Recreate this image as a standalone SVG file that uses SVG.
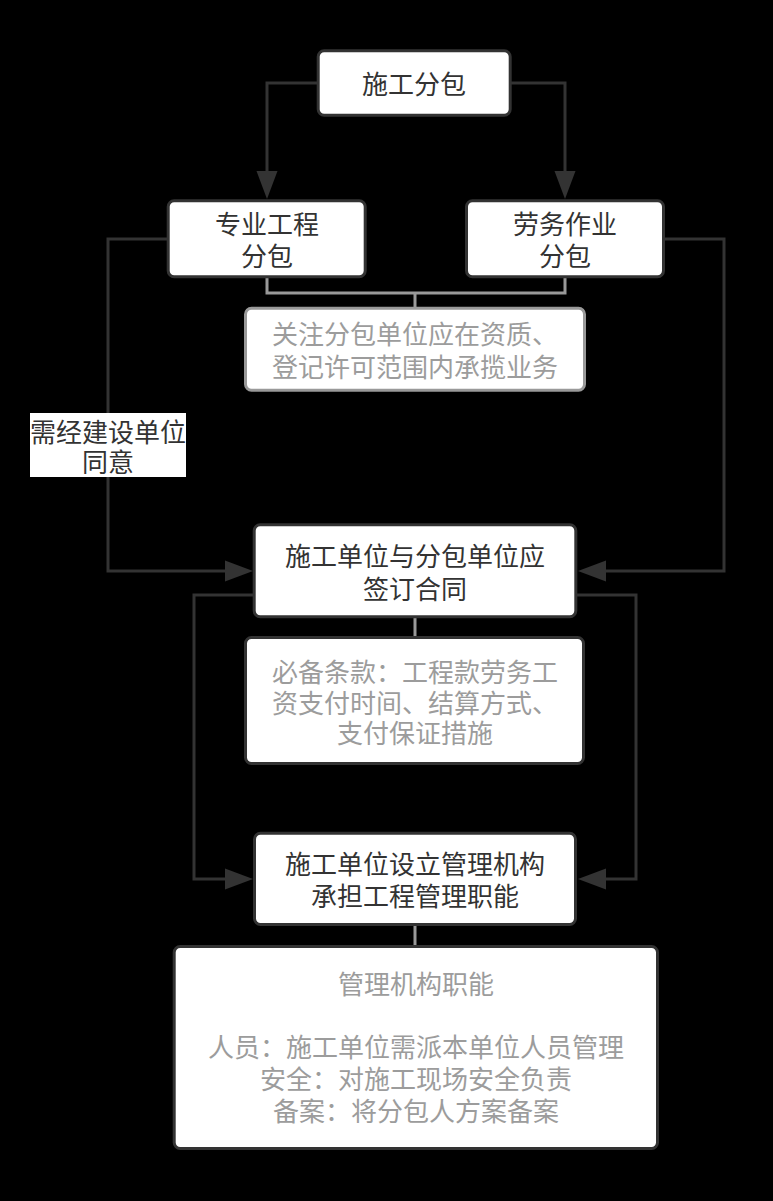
<svg xmlns="http://www.w3.org/2000/svg" width="773" height="1201" viewBox="0 0 773 1201">
<style>
text{font-family:"Noto Sans CJK SC","Noto Sans",sans-serif;font-size:26px;text-anchor:middle}
.node{fill:#fff;stroke:#333;stroke-width:3}
.note{fill:#fff;stroke:#333;stroke-width:3}
.dark{fill:#333}
.grey{fill:#9c9c9c}
.c{fill:none;stroke:#333;stroke-width:3}
.g{fill:none;stroke:#999;stroke-width:3}
</style>
<defs>
<marker id="arr" markerUnits="userSpaceOnUse" markerWidth="30" markerHeight="24" refX="0" refY="10.5" orient="auto" overflow="visible">
<path d="M0,0 L28,10.5 L0,21 Z" fill="#333"/>
</marker>
</defs>
<rect width="773" height="1201" fill="#000"/>
<g id="connectors">
<path class="c" d="M318,83 H267 V171" marker-end="url(#arr)"/>
<path class="c" d="M511,83 H565 V171" marker-end="url(#arr)"/>
<path class="c" d="M168,239 H108 V571 H225" marker-end="url(#arr)"/>
<path class="c" d="M665,239 H724 V571 H606" marker-end="url(#arr)"/>
<path class="c" d="M254,595 H194 V879 H225" marker-end="url(#arr)"/>
<path class="c" d="M577,595 H636 V879 H606" marker-end="url(#arr)"/>
<path class="g" d="M267,278 V293 H565 V278 M415,293 V308"/>
<path class="g" d="M415,618 V637"/>
<path class="g" d="M415,926 V946"/>
<g id="label-consent">
<rect x="30" y="413" width="156" height="64" fill="#fff"/>
<text class="dark" x="108" y="442">需经建设单位<tspan x="108" dy="30">同意</tspan></text>
</g>
</g>
<g id="n-subcontract">
<rect class="node" x="318.2" y="50.8" width="192" height="64.5" rx="6"/>
<text class="dark" x="414" y="94">施工分包</text>
</g>
<g id="n-special">
<rect class="node" x="168.2" y="200.8" width="197" height="76" rx="6"/>
<text class="dark" x="267" y="234">专业工程<tspan x="267" dy="32">分包</tspan></text>
</g>
<g id="n-labor">
<rect class="node" x="466.5" y="200.8" width="197" height="76" rx="6"/>
<text class="dark" x="565" y="234">劳务作业<tspan x="565" dy="32">分包</tspan></text>
</g>
<g id="note-qualification">
<rect class="note" x="245.5" y="308.2" width="339" height="82" rx="6" style="stroke:#999"/>
<text class="grey" x="415" y="344">关注分包单位应在资质、<tspan x="415" dy="33">登记许可范围内承揽业务</tspan></text>
</g>
<g id="n-contract">
<rect class="node" x="254.2" y="524.8" width="321.6" height="92" rx="6"/>
<text class="dark" x="415" y="566">施工单位与分包单位应<tspan x="415" dy="33">签订合同</tspan></text>
</g>
<g id="note-clauses">
<rect class="note" x="245.5" y="637.5" width="338" height="126" rx="6"/>
<text class="grey" x="415" y="682">必备条款：工程款劳务工<tspan x="415" dy="31">资支付时间、结算方式、</tspan><tspan x="415" dy="30">支付保证措施</tspan></text>
</g>
<g id="n-management">
<rect class="node" x="254.5" y="833.2" width="321" height="91.3" rx="6"/>
<text class="dark" x="415" y="874">施工单位设立管理机构<tspan x="415" dy="32">承担工程管理职能</tspan></text>
</g>
<g id="note-functions">
<rect class="note" x="174.2" y="946.5" width="483.3" height="202" rx="6"/>
<text class="grey" x="416" y="994">管理机构职能<tspan x="416" dy="63">人员：施工单位需派本单位人员管理</tspan><tspan x="416" dy="32">安全：对施工现场安全负责</tspan><tspan x="416" dy="32">备案：将分包人方案备案</tspan></text>
</g>
</svg>
